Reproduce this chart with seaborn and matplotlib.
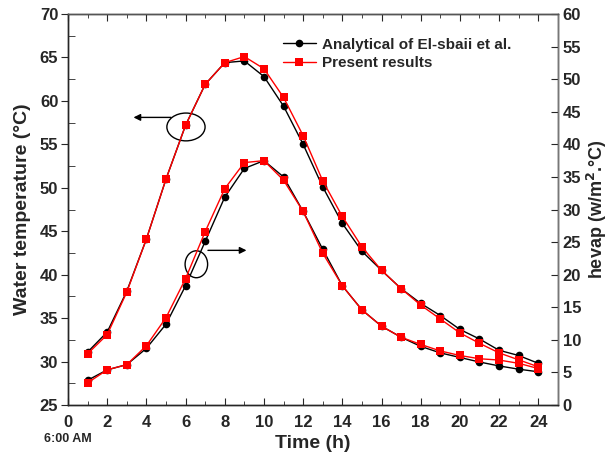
import numpy as np
import pandas as pd
import matplotlib
matplotlib.use("Agg")
import matplotlib.pyplot as plt
import seaborn as sns
from matplotlib.patches import Ellipse
from matplotlib.ticker import MultipleLocator

# dane
czas = list(range(1, 25))
temp_analityczna = [31.1, 33.4, 38.1, 44.1, 51.0, 57.2, 61.9, 64.4, 64.6, 62.8, 59.4, 55.0,
                    50.1, 45.9, 42.7, 40.5, 38.4, 36.7, 35.3, 33.7, 32.6, 31.3, 30.7, 29.8]
temp_obecne = [30.9, 33.1, 38.0, 44.1, 51.0, 57.2, 61.9, 64.4, 65.1, 63.7, 60.4, 56.0,
               50.8, 46.7, 43.2, 40.5, 38.4, 36.5, 34.9, 33.3, 32.1, 31.0, 30.2, 29.4]
hevap_analityczne = [3.8, 5.4, 6.2, 8.7, 12.4, 18.3, 25.1, 31.9, 36.3, 37.5, 35.0, 29.7,
                     23.9, 18.3, 14.6, 12.1, 10.4, 9.0, 8.0, 7.3, 6.6, 6.0, 5.5, 5.1]
hevap_obecne = [3.4, 5.4, 6.2, 9.1, 13.4, 19.4, 26.6, 33.2, 37.2, 37.5, 34.5, 29.7,
                23.3, 18.3, 14.6, 12.1, 10.4, 9.3, 8.3, 7.6, 7.1, 6.9, 6.4, 5.6]

df = pd.DataFrame({'czas': czas, 'ta': temp_analityczna, 'to': temp_obecne,
                   'ha': hevap_analityczne, 'ho': hevap_obecne})

sns.set_style("ticks")
plt.rcParams['font.family'] = ['Liberation Sans', 'DejaVu Sans']
plt.rcParams['font.weight'] = 'bold'
plt.rcParams['axes.labelweight'] = 'bold'

fig = plt.figure(figsize=(6.09, 4.59), dpi=100)
ax = fig.add_axes([0.1117, 0.1176, 0.8043, 0.8519])
ax2 = ax.twinx()

styl_a = dict(color='black', marker='o', markersize=5.5, linewidth=1, markeredgewidth=0)
styl_o = dict(color='red', marker='s', markersize=6, linewidth=1, markeredgewidth=0)

sns.lineplot(data=df, x='czas', y='ta', ax=ax, label='Analytical of El-sbaii et al.', **styl_a)
sns.lineplot(data=df, x='czas', y='to', ax=ax, label='Present results', **styl_o)
sns.lineplot(data=df, x='czas', y='ha', ax=ax2, legend=False, **styl_a)
sns.lineplot(data=df, x='czas', y='ho', ax=ax2, legend=False, **styl_o)

ax.set_xlim(0, 25)
ax.set_ylim(25, 70)
ax2.set_ylim(0, 60)
ax.xaxis.set_major_locator(MultipleLocator(2))
ax.xaxis.set_minor_locator(MultipleLocator(1))
ax.yaxis.set_major_locator(MultipleLocator(5))
ax.yaxis.set_minor_locator(MultipleLocator(2.5))
ax2.yaxis.set_major_locator(MultipleLocator(5))

ax.tick_params(axis='x', which='both', direction='in', top=True, labelsize=12)
ax.tick_params(axis='x', which='major', length=5, pad=7)
ax.tick_params(axis='x', which='minor', length=3)
ax.tick_params(axis='y', which='major', direction='out', length=5, pad=2, labelsize=12)
ax.tick_params(axis='y', which='minor', direction='in', length=5)
ax2.tick_params(axis='y', direction='in', length=5, labelsize=12)
for a in (ax, ax2):
    for s in a.spines.values():
        s.set_visible(True)
        s.set_linewidth(1)
ax.spines['left'].set_color('#222222')
ax.spines['bottom'].set_color('#222222')
ax2.spines['right'].set_color('#777777')
ax2.spines['top'].set_color('#555555')

ax.set_xlabel('Time (h)', fontsize=14, labelpad=4)
ax.set_ylabel('Water temperature (°C)', fontsize=14, labelpad=6)
ax2.set_ylabel('hevap (w/m$^\\mathbf{2}$.°C)', fontsize=13, labelpad=3)

ax.legend(loc='upper left', bbox_to_anchor=(0.41, 0.975), frameon=False, fontsize=11,
          handlelength=2.2, handletextpad=0.4, labelspacing=0.3)

# adnotacje: elipsy i strzałki
ax.add_patch(Ellipse((6.02, 57.0), 1.95, 3.2, fill=False, color='black', linewidth=1))
ax.annotate('', xy=(3.2, 58.1), xytext=(5.4, 58.1),
            arrowprops=dict(arrowstyle='-|>', color='black', lw=1, mutation_scale=10))
ax.add_patch(Ellipse((6.55, 41.2), 1.15, 3.1, fill=False, color='black', linewidth=1))
ax.annotate('', xy=(9.25, 42.8), xytext=(7.0, 42.8),
            arrowprops=dict(arrowstyle='-|>', color='black', lw=1, mutation_scale=10))

fig.text(0.072, 0.037, '6:00 AM', fontsize=9, fontweight='bold')

fig.savefig('out.png', dpi=100)
